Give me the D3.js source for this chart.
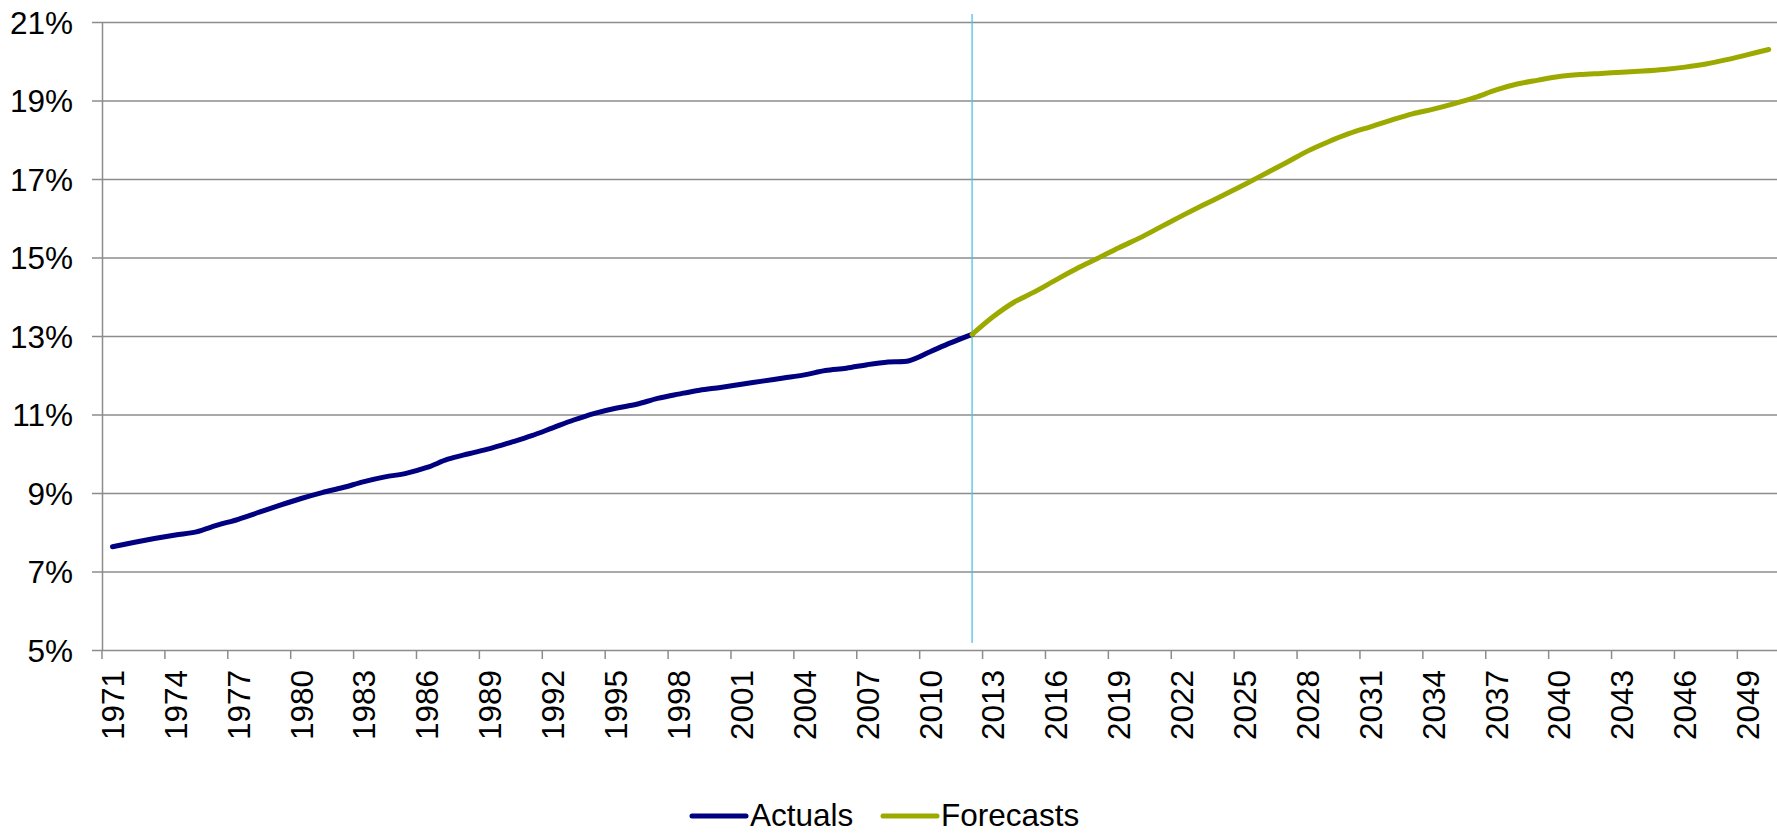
<!DOCTYPE html>
<html>
<head>
<meta charset="utf-8">
<script src="https://cdn.jsdelivr.net/npm/d3@7"></script>
<style>
  html, body { margin: 0; padding: 0; background: #fff; }
  svg { display: block; font-family: "Liberation Sans", Arial, sans-serif; }
</style>
</head>
<body>
<svg id="chart" width="1777" height="833"></svg>
<script>
// Share of population, actual years and projected years (percent)
const actualYears = d3.range(1971, 2013);
const actualValues = [
  7.63, 7.74, 7.84, 7.93, 8.01, 8.18, 8.33, 8.51, 8.69, 8.86,
  9.01, 9.14, 9.29, 9.41, 9.50, 9.65, 9.86, 10.00, 10.13, 10.29,
  10.46, 10.66, 10.86, 11.03, 11.16, 11.26, 11.41, 11.52, 11.62, 11.69,
  11.77, 11.85, 11.93, 12.01, 12.12, 12.18, 12.27, 12.34, 12.37, 12.60,
  12.83, 13.04
];
const forecastYears = d3.range(2012, 2051);
const forecastValues = [
  13.04, 13.49, 13.86, 14.13, 14.43, 14.72, 14.98, 15.25, 15.50, 15.78,
  16.06, 16.33, 16.59, 16.86, 17.14, 17.42, 17.71, 17.95, 18.16, 18.33,
  18.50, 18.66, 18.78, 18.92, 19.08, 19.27, 19.42, 19.52, 19.61, 19.66,
  19.69, 19.72, 19.75, 19.79, 19.85, 19.93, 20.04, 20.17, 20.30
];
const allYears = d3.range(1971, 2051);
const xTickYears = d3.range(1971, 2051, 3);
const yTicks = [5, 7, 9, 11, 13, 15, 17, 19, 21];
const dividerYear = 2012;
const seriesNames = ["Actuals", "Forecasts"];
const seriesColors = ["#000080", "#9caa00"];

const svg = d3.select("#chart");
const plotLeft = 102, plotTop = 22, plotBottom = 650;
const bandW = 20.966;
const plotRight = plotLeft + bandW * allYears.length;
const fontSize = "31.5px";

const x = d3.scaleBand().domain(allYears).range([plotLeft, plotRight]).padding(0);
const y = d3.scaleLinear().domain([5, 21]).range([plotBottom, plotTop]);
const gridColor = "#8c8c8c";

// Horizontal gridlines with short tick stubs to the left of the axis
const yAxis = d3.axisLeft(y).tickValues(yTicks).tickFormat(d => d + "%")
  .tickSize(-(plotRight - plotLeft)).tickSizeOuter(0);
const gy = svg.append("g").attr("transform", `translate(${plotLeft},0)`).call(yAxis);
gy.select(".domain").attr("stroke", gridColor).attr("stroke-width", 1.5);
gy.selectAll(".tick line").attr("stroke", gridColor).attr("stroke-width", 1.5)
  .attr("x1", -10);
gy.selectAll(".tick text").attr("fill", "#000").style("font-size", fontSize)
  .attr("x", -29).attr("dy", "0.36em");

// Category axis: ticks at band boundaries, labels centred in bands
const xAxis = d3.axisBottom(x).tickValues(xTickYears).tickSize(9).tickSizeOuter(0);
const gx = svg.append("g").attr("transform", `translate(0,${plotBottom})`).call(xAxis);
gx.select(".domain").remove();
gx.selectAll(".tick line").attr("stroke", gridColor).attr("stroke-width", 1.5)
  .attr("x1", -bandW / 2).attr("x2", -bandW / 2);
gx.selectAll(".tick text")
  .attr("fill", "#000").style("font-size", fontSize)
  .attr("text-anchor", "end")
  .attr("transform", "translate(0,20) rotate(-90)")
  .attr("x", 0).attr("y", 0).attr("dy", "0.36em");

// Divider between actual and projected years
const dx = x(dividerYear) + x.bandwidth() / 2;
svg.append("line")
  .attr("x1", dx).attr("x2", dx).attr("y1", 14).attr("y2", 643)
  .attr("stroke", "#4fc0e8").attr("stroke-width", 1.3);

const line = d3.line()
  .x(d => x(d[0]) + x.bandwidth() / 2)
  .y(d => y(d[1]))
  .curve(d3.curveCatmullRom.alpha(0.5));

const series = [
  d3.zip(actualYears, actualValues),
  d3.zip(forecastYears, forecastValues)
];
svg.append("g").selectAll("path").data(series).join("path")
  .attr("d", line)
  .attr("fill", "none")
  .attr("stroke", (d, i) => seriesColors[i])
  .attr("stroke-width", 5)
  .attr("stroke-linecap", "round")
  .attr("stroke-linejoin", "round");

// Legend
const legendItems = [
  { name: seriesNames[0], color: seriesColors[0], x: 692 },
  { name: seriesNames[1], color: seriesColors[1], x: 883 }
];
const lg = svg.append("g").selectAll("g").data(legendItems).join("g")
  .attr("transform", d => `translate(${d.x},816)`);
lg.append("line").attr("x1", 0).attr("x2", 54).attr("y1", 0).attr("y2", 0)
  .attr("stroke", d => d.color).attr("stroke-width", 5).attr("stroke-linecap", "round");
lg.append("text").attr("x", 58).attr("y", 10)
  .style("font-size", fontSize).attr("fill", "#000")
  .text(d => d.name);
</script>
</body>
</html>
